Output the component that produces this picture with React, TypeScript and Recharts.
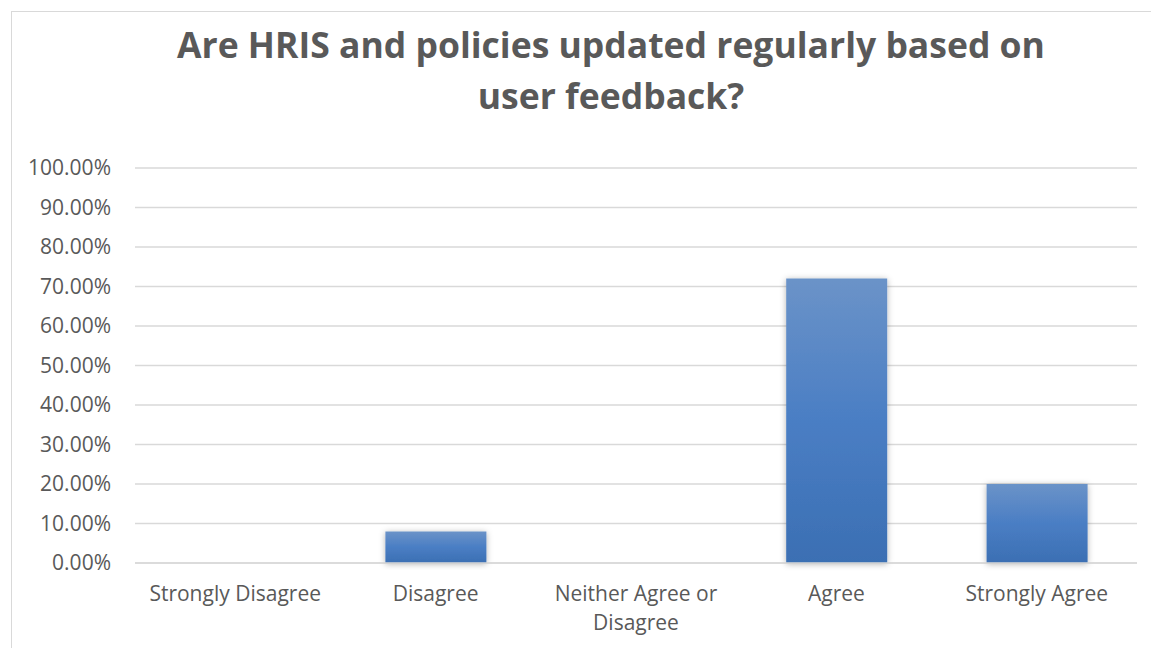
import { BarChart, Bar, XAxis, YAxis, CartesianGrid } from "recharts";

const categories = [
  "Strongly Disagree",
  "Disagree",
  "Neither Agree or Disagree",
  "Agree",
  "Strongly Agree",
];
const shares = [0, 0.08, 0, 0.72, 0.2];
const yTicks = [0, 0.1, 0.2, 0.3, 0.4, 0.5, 0.6, 0.7, 0.8, 0.9, 1];
const titleLines = ["Are HRIS and policies updated regularly based on", "user feedback?"];

const data = categories.map((name, i) => ({ name, value: shares[i] }));

const FONT = "'Open Sans', 'Liberation Sans', sans-serif";
const TEXT_COLOR = "#595959";

// simple word wrap by character count, close enough for these labels
function wrapLabel(label: string, maxChars = 17) {
  const lines: string[] = [];
  let cur = "";
  for (const word of label.split(" ")) {
    const next = cur ? `${cur} ${word}` : word;
    if (next.length > maxChars && cur) {
      lines.push(cur);
      cur = word;
    } else {
      cur = next;
    }
  }
  if (cur) lines.push(cur);
  return lines;
}

function CategoryTick(props: { x?: number; y?: number; payload?: { value: string } }) {
  const { x, y, payload } = props;
  if (x == null || y == null || !payload) return null;
  const lines = wrapLabel(payload.value);
  return (
    <text
      x={x}
      y={y}
      textAnchor="middle"
      fill={TEXT_COLOR}
      style={{ fontFamily: FONT, fontSize: 21 }}
    >
      {lines.map((line, i) => (
        <tspan key={i} x={x} dy={i === 0 ? "0.71em" : 29}>
          {line}
        </tspan>
      ))}
    </text>
  );
}

export default function App() {
  return (
    <div
      style={{
        position: "fixed",
        left: 0,
        top: 0,
        width: 1151,
        height: 648,
        overflow: "hidden",
        background: "#fff",
      }}
    >
      <div
        style={{
          position: "absolute",
          left: 11,
          top: 11,
          width: 1200,
          height: 700,
          border: "1px solid #d9d9d9",
        }}
      />
      <div
        style={{
          position: "absolute",
          left: 11,
          top: 19,
          width: 1200,
          textAlign: "center",
          fontFamily: FONT,
          fontWeight: 700,
          fontSize: 35.5,
          lineHeight: "51px",
          color: TEXT_COLOR,
        }}
      >
        {titleLines.map((t) => (
          <div key={t}>{t}</div>
        ))}
      </div>
      <div style={{ position: "absolute", left: 0, top: 0 }}>
        <BarChart
          width={1151}
          height={648}
          data={data}
          margin={{ top: 168, right: 14, bottom: 25, left: 0 }}
        >
          <defs>
            <linearGradient id="barFill" x1="0" y1="0" x2="0" y2="1">
              <stop offset="0%" stopColor="#6b93c8" />
              <stop offset="50%" stopColor="#4a7ec4" />
              <stop offset="100%" stopColor="#3b6fb3" />
            </linearGradient>
            <filter id="barShadow" x="-20%" y="-20%" width="140%" height="140%">
              <feDropShadow dx="0" dy="1" stdDeviation="3" floodColor="#000" floodOpacity="0.3" />
            </filter>
          </defs>
          <CartesianGrid vertical={false} stroke="#d9d9d9" strokeWidth={1.5} />
          <XAxis
            dataKey="name"
            axisLine={{ stroke: "#d9d9d9", strokeWidth: 1.5 }}
            tickLine={false}
            tickSize={0}
            tickMargin={23}
            height={60}
            interval={0}
            tick={<CategoryTick />}
          />
          <YAxis
            domain={[0, 1]}
            ticks={yTicks}
            interval={0}
            width={135}
            axisLine={false}
            tickLine={false}
            tickSize={0}
            tickMargin={24}
            tickFormatter={(v: number) => `${(v * 100).toFixed(2)}%`}
            tick={{ fill: TEXT_COLOR, fontSize: 21, fontFamily: FONT }}
          />
          <Bar
            dataKey="value"
            fill="url(#barFill)"
            barSize={101}
            filter="url(#barShadow)"
            isAnimationActive={false}
          />
        </BarChart>
      </div>
    </div>
  );
}
